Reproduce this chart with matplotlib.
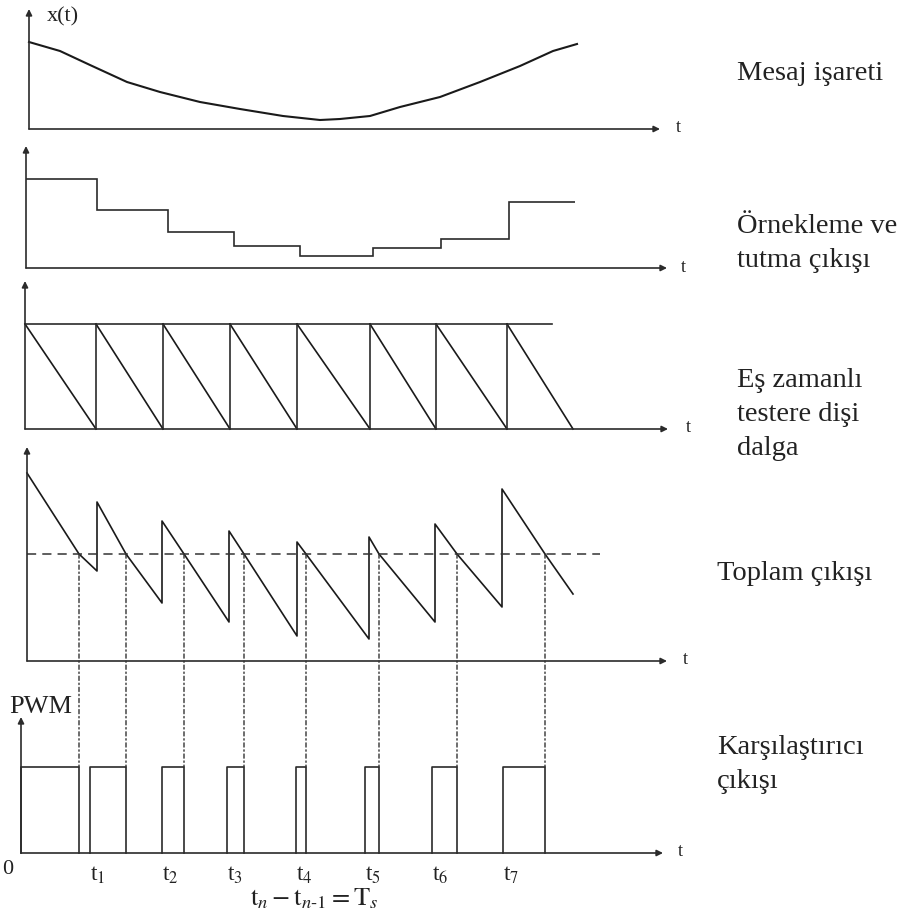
"""
PWM generation by sample-hold + synchronous sawtooth, five stacked timing traces.
"""

import matplotlib.pyplot as plt
from matplotlib.patches import ConnectionPatch

plt.rcParams["font.family"] = ["Liberation Serif", "DejaVu Serif"]
plt.rcParams["mathtext.fontset"] = "stix"

# -----------------------------------------------------------------------------
# Data (time in drawing units, 0 = start of first sampling period)
# -----------------------------------------------------------------------------
msg_t = [2, 33, 63, 100, 133, 173, 213, 256, 293, 313, 343, 373, 413, 453, 493, 526, 550]
msg_x = [0.87, 0.78, 0.64, 0.47, 0.37, 0.27, 0.20, 0.13, 0.09, 0.10, 0.13, 0.22,
         0.32, 0.47, 0.63, 0.78, 0.85]

sh_edges = [-1, 70, 141, 207, 273, 346, 414, 482, 548]
sh_levels = [0.89, 0.58, 0.36, 0.22, 0.12, 0.20, 0.29, 0.66]

saw_edges = [-2, 69, 136, 203, 270, 343, 409, 480, 546]
saw_top = 1.05
saw_line_end = 525

sum_edges = [0, 70, 135, 202, 270, 342, 408, 475, 546]
sum_peaks = [1.88, 1.59, 1.40, 1.30, 1.19, 1.24, 1.37, 1.72]
sum_troughs = [0.90, 0.58, 0.39, 0.25, 0.22, 0.39, 0.54, 0.67]
threshold = 1.07
threshold_end = 573
cross_t = [52, 99, 157, 217, 279, 352, 430, 518]

pwm_rise = [-6, 63, 135, 200, 269, 338, 405, 476]
pwm_high = 0.86
pwm_labels = [f"t$_{k}$" for k in range(1, 8)]

panel_names = [
    "Mesaj işareti",
    "Örnekleme ve\ntutma çıkışı",
    "Eş zamanlı\ntestere dişi\ndalga",
    "Toplam çıkışı",
    "Karşılaştırıcı\nçıkışı",
]

# -----------------------------------------------------------------------------
# Layout: (band top, band bottom, baseline) in figure pixels
# -----------------------------------------------------------------------------
W, H = 903, 920
PX = 100.0  # pixels per amplitude unit
bands = [(0, 140, 130), (140, 280, 269), (280, 445, 430), (445, 675, 662), (675, 920, 854)]
y_axis_t = [2, -1, -2, 0, -6]
y_axis_top = [1.20, 1.22, 1.48, 2.14, 1.36]
x_axis_end = [633, 640, 641, 640, 636]
t_label_x = [651, 656, 661, 658, 653]
name_x = [710, 710, 710, 690, 690]
name_y = [0.56, 0.255, 0.155, 0.89, 0.895]

LC = "#2b2b2b"
LW = 1.2

fig = plt.figure(figsize=(W / 100, H / 100), dpi=100)
axes = []
for top, bot, base in bands:
    ax = fig.add_axes([0, 1 - bot / H, 1, (bot - top) / H])
    ax.set_xlim(-27, W - 27)
    ax.set_ylim((base - bot) / PX, (base - top) / PX)
    ax.axis("off")
    axes.append(ax)

arrow = dict(arrowstyle="-|>", color=LC, lw=LW, mutation_scale=9, shrinkA=0, shrinkB=0)
for i, ax in enumerate(axes):
    x0 = y_axis_t[i]
    ax.annotate("", xy=(x_axis_end[i], 0), xytext=(x0, 0), arrowprops=arrow)
    ax.annotate("", xy=(x0, y_axis_top[i]), xytext=(x0, 0), arrowprops=arrow)
    ax.text(t_label_x[i], 0.02, "t", fontsize=13, ha="center", va="center", color="#222")
    ax.text(name_x[i], name_y[i], panel_names[i], fontsize=20.5, ha="left", va="center",
            color="#222", linespacing=1.45)

# 1) message signal
ax1 = axes[0]
ax1.plot(msg_t, msg_x, color="#1a1a1a", lw=1.5)
ax1.text(36, 1.13, "x(t)", fontsize=16, ha="center", va="center", color="#222")

# 2) sample and hold
ax2 = axes[1]
ax2.stairs(sh_levels, sh_edges, baseline=None, color=LC, lw=LW)

# 3) synchronous sawtooth
ax3 = axes[2]
ax3.plot([saw_edges[0], saw_line_end], [saw_top, saw_top], color=LC, lw=LW)
for a, b in zip(saw_edges[:-1], saw_edges[1:]):
    ax3.plot([a, b], [saw_top, 0], color="#1a1a1a", lw=LW)
for e in saw_edges[1:-1]:
    ax3.plot([e, e], [0, saw_top], color=LC, lw=LW)

# 4) sum of sample-hold and sawtooth
ax4 = axes[3]
sx, sy = [], []
for i in range(len(sum_peaks)):
    sx += [sum_edges[i], cross_t[i], sum_edges[i + 1]]
    sy += [sum_peaks[i], threshold, sum_troughs[i]]
ax4.plot(sx, sy, color="#1a1a1a", lw=LW)
ax4.plot([0, threshold_end], [threshold, threshold], color="#333", lw=1.1,
         linestyle=(0, (6, 4)))

# 5) comparator output (PWM)
ax5 = axes[4]
for r, f in zip(pwm_rise, cross_t):
    ax5.plot([r, r, f, f], [0, pwm_high, pwm_high, 0], color=LC, lw=LW)
for lab, r in zip(pwm_labels, pwm_rise[1:]):
    ax5.text(r + 8, -0.21, lab, fontsize=17, ha="center", va="center", color="#222")
ax5.text(45, 1.47, "PWM", fontsize=19, ha="right", va="center", color="#222")
ax5.text(-19, -0.16, "0", fontsize=16, ha="center", va="center", color="#222")
ax5.text(287, -0.45, r"$\mathrm{t}_n - \mathrm{t}_{n\text{-}1} = \mathrm{T}_s$",
         fontsize=19, ha="center", va="center", color="#222")

# dashed drop lines from the threshold crossings down to the PWM falling edges
for c in cross_t:
    con = ConnectionPatch(xyA=(c, threshold), coordsA=ax4.transData,
                          xyB=(c, pwm_high), coordsB=ax5.transData,
                          color="#333", lw=1.0, linestyle=(0, (3, 2, 1, 2)))
    fig.add_artist(con)

fig.savefig("out.png", dpi=100, facecolor="white")
